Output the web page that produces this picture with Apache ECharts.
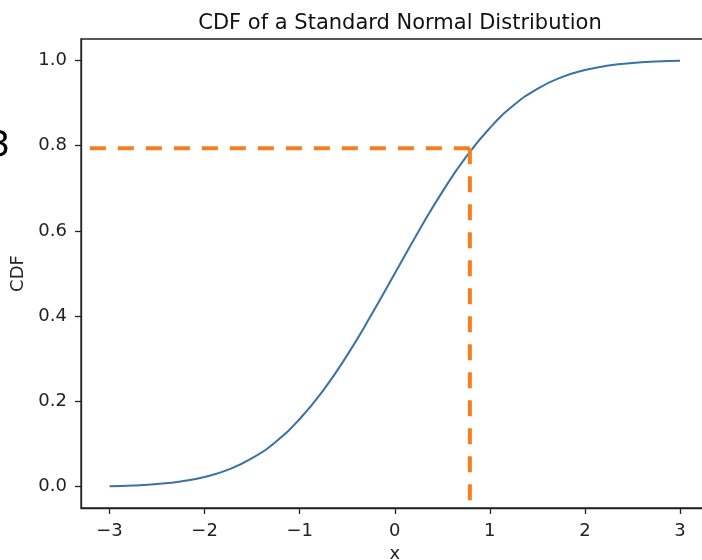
<!DOCTYPE html>
<html style="height: 100%">
<head>
    <meta charset="utf-8">
    <script src="https://cdn.jsdelivr.net/npm/echarts@6/dist/echarts.min.js"></script>
</head>
<body style="height: 100%; margin: 0; background: #fff">
    <div id="main" style="width:702px; height:560px;"></div>
    <script type="text/javascript">
    // values
    var xValues = [-3, -2.75, -2.5, -2.25, -2, -1.75, -1.5, -1.25, -1, -0.75, -0.5, -0.25, 0,
                   0.25, 0.5, 0.75, 1, 1.25, 1.5, 1.75, 2, 2.25, 2.5, 2.75, 3];
    var cdfValues = [0.0013, 0.003, 0.0062, 0.0122, 0.0228, 0.0401, 0.0668, 0.1056, 0.1587, 0.2266,
                     0.3085, 0.4013, 0.5, 0.5987, 0.6915, 0.7734, 0.8413, 0.8944, 0.9332, 0.9599,
                     0.9772, 0.9878, 0.9938, 0.997, 0.9987];
    // orange guide lines, both start at the point on the curve
    var pointX = 0.79;
    var pointY = 0.794;
    var guideLeftX = -3.42;
    var guideBottomY = -0.05;
    var xTicks = [-3, -2, -1, 0, 1, 2, 3];
    var yTicks = [0, 0.2, 0.4, 0.6, 0.8, 1.0];

    var font = 'DejaVu Sans';
    var myChart = echarts.init(document.getElementById('main'));

    function guide(data) {
        return {
            type: 'line',
            clip: false,
            symbol: 'none',
            z: 3,
            lineStyle: { color: '#f57f20', width: 4, type: [16, 12] },
            data: data
        };
    }

    var option = {
        backgroundColor: '#fff',
        animation: false,
        title: {
            text: 'CDF of a Standard Normal Distribution',
            left: 395,
            top: 8,
            textAlign: 'center',
            textStyle: { fontFamily: font, fontSize: 21, fontWeight: 'normal', color: '#111' }
        },
        grid: {
            left: 81,
            top: 39,
            right: -6.5,
            bottom: 52,
            containLabel: false,
            outerBoundsMode: 'none',
            show: true,
            borderColor: '#222',
            borderWidth: 1.3
        },
        xAxis: {
            type: 'value',
            min: -3.3,
            max: 3.3,
            name: 'x',
            nameLocation: 'middle',
            nameGap: 37,
            nameTextStyle: { fontFamily: font, fontSize: 18, color: '#222' },
            axisLine: { show: true, onZero: false, lineStyle: { color: '#222', width: 1.3 } },
            axisTick: { show: true, length: 6, customValues: xTicks, lineStyle: { color: '#222', width: 1.3 } },
            axisLabel: {
                customValues: xTicks,
                margin: 14,
                fontFamily: font,
                fontSize: 18,
                color: '#222',
                formatter: function (v) { return v < 0 ? '\u2212' + Math.abs(v) : String(v); }
            },
            splitLine: { show: false }
        },
        yAxis: {
            type: 'value',
            min: -0.05,
            max: 1.05,
            name: 'CDF',
            nameLocation: 'middle',
            nameGap: 51,
            nameTextStyle: { fontFamily: font, fontSize: 18, color: '#222' },
            axisLine: { show: true, onZero: false, lineStyle: { color: '#222', width: 1.3 } },
            axisTick: { show: true, length: 6, customValues: yTicks, lineStyle: { color: '#222', width: 1.3 } },
            axisLabel: {
                customValues: yTicks,
                margin: 14,
                fontFamily: font,
                fontSize: 18,
                color: '#222',
                formatter: function (v) { return v.toFixed(1); }
            },
            splitLine: { show: false }
        },
        graphic: [
            {
                type: 'text',
                left: -12,
                top: 129,
                style: { text: '3', fontFamily: font, fontSize: 35, fill: '#000' }
            }
        ],
        series: [
            {
                name: 'CDF',
                type: 'line',
                smooth: true,
                showSymbol: false,
                symbol: 'none',
                lineStyle: { color: '#3a72a3', width: 2 },
                data: xValues.map(function (x, i) { return [x, cdfValues[i]]; })
            },
            guide([[pointX, pointY], [guideLeftX, pointY]]),
            guide([[pointX, pointY], [pointX, guideBottomY]])
        ]
    };
    myChart.setOption(option);
    </script>
</body>
</html>
